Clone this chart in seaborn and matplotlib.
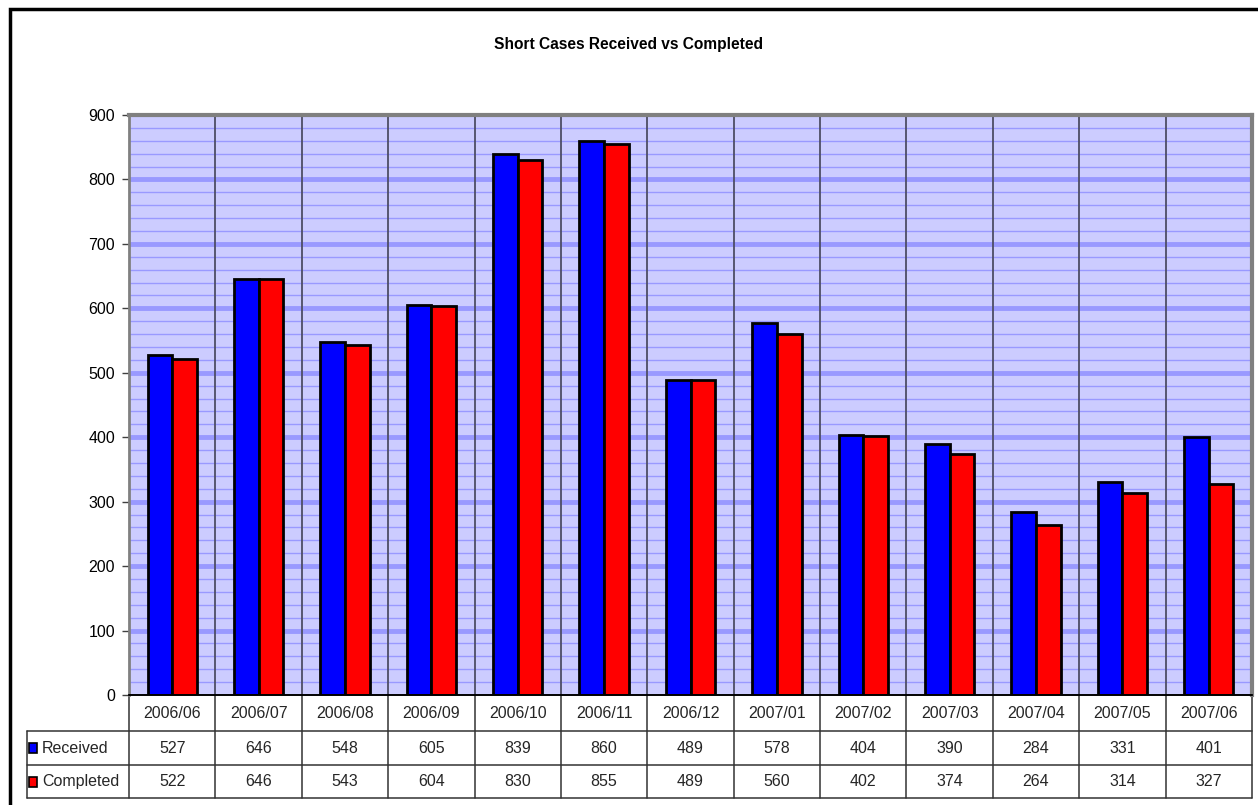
import matplotlib
matplotlib.use("Agg")
import matplotlib.pyplot as plt
import matplotlib.transforms as mtransforms
from matplotlib.lines import Line2D
from matplotlib.patches import Rectangle
from matplotlib.ticker import MultipleLocator
import seaborn as sns
import pandas as pd

months = ["2006/06", "2006/07", "2006/08", "2006/09", "2006/10", "2006/11", "2006/12",
          "2007/01", "2007/02", "2007/03", "2007/04", "2007/05", "2007/06"]
received = [527, 646, 548, 605, 839, 860, 489, 578, 404, 390, 284, 331, 401]
completed = [522, 646, 543, 604, 830, 855, 489, 560, 402, 374, 264, 314, 327]
series_names = ["Received", "Completed"]
colors = ["#0000ff", "#ff0000"]
title = "Short Cases Received vs Completed"

df = pd.DataFrame({
    "month": months * 2,
    "value": received + completed,
    "series": [series_names[0]] * len(months) + [series_names[1]] * len(months),
})

sns.set_theme(style="white")
plt.rcParams["font.family"] = ["Liberation Sans", "DejaVu Sans"]

W, H = 1258, 805
fig = plt.figure(figsize=(W / 100, H / 100), dpi=100)
fig.patch.set_facecolor("white")

def fx(px):
    return px / W

def fy(py):
    return 1 - py / H

left, right, top, bottom = 129, 1252, 115, 695
ax = fig.add_axes([fx(left), fy(bottom), fx(right) - fx(left), fy(top) - fy(bottom)])
ax.set_facecolor("#ccccff")

sns.barplot(data=df, x="month", y="value", hue="series", palette=colors,
            width=0.57, edgecolor="black", linewidth=2, saturation=1,
            legend=False, ax=ax, zorder=3)

ax.set_xlim(-0.5, len(months) - 0.5)
ax.set_ylim(0, 900)
ax.yaxis.set_major_locator(MultipleLocator(100))
ax.grid(False)
ax.set_axisbelow(True)
for v in range(20, 900, 20):
    if v % 100 == 0:
        ax.axhline(v, color="#9999ff", lw=3.5, zorder=1)
    else:
        ax.axhline(v, color="#9999ff", lw=1.0, zorder=1)
for i in range(len(months) - 1):
    ax.axvline(i + 0.5, color="#4d4d66", lw=1.3, zorder=2)

ax.set_xlabel("")
ax.set_ylabel("")
ax.set_xticks([])
ax.tick_params(axis="y", which="major", length=5, width=1, color="#404040",
               labelsize=11.5, pad=5, left=True, labelcolor="black")
ax.spines["left"].set_color("#808080")
ax.spines["left"].set_linewidth(2)
for s in ["top", "right"]:
    ax.spines[s].set_color("#808080")
    ax.spines[s].set_linewidth(3)
ax.spines["bottom"].set_color("black")
ax.spines["bottom"].set_linewidth(1.2)

# Title
fig.text(0.5, fy(45), title, ha="center", va="center", fontsize=11.2,
         fontweight="bold", color="black")

# Data table below the plot
trans = mtransforms.blended_transform_factory(ax.transData, fig.transFigure)
row_y = [695, 731, 765, 798]
tcol = "#333333"
fig.add_artist(Line2D([fx(left), fx(right)], [fy(row_y[0])] * 2, color="black", lw=1.2))
for yy in row_y[1:]:
    fig.add_artist(Line2D([fx(27), fx(right)], [fy(yy)] * 2, color=tcol, lw=1.1))
for i in range(len(months) + 1):
    ax.add_artist(Line2D([i - 0.5, i - 0.5], [fy(row_y[0]), fy(row_y[3])],
                         transform=trans, color=tcol, lw=1.1, clip_on=False))
fig.add_artist(Line2D([fx(27)] * 2, [fy(row_y[1]), fy(row_y[3])], color=tcol, lw=1.1))

cy = [(row_y[0] + row_y[1]) / 2, (row_y[1] + row_y[2]) / 2, (row_y[2] + row_y[3]) / 2]
for i, m in enumerate(months):
    ax.text(i, fy(cy[0]), m, transform=trans, ha="center", va="center", fontsize=11.5)
    ax.text(i, fy(cy[1]), str(received[i]), transform=trans, ha="center", va="center", fontsize=11.5)
    ax.text(i, fy(cy[2]), str(completed[i]), transform=trans, ha="center", va="center", fontsize=11.5)

for r, (name, c) in enumerate(zip(series_names, colors)):
    yc = cy[r + 1]
    fig.add_artist(Rectangle((fx(29), fy(yc + 5)), fx(8), fy(0) - fy(10),
                             facecolor=c, edgecolor="black", lw=1.2))
    fig.text(fx(42), fy(yc), name, ha="left", va="center", fontsize=11.5)

# outer chart border
fig.add_artist(Rectangle((fx(10), fy(H + 5)), fx(W), fy(9) - fy(H + 5),
                         facecolor="none", edgecolor="black", lw=2.5))

fig.savefig("out.png", dpi=100)
